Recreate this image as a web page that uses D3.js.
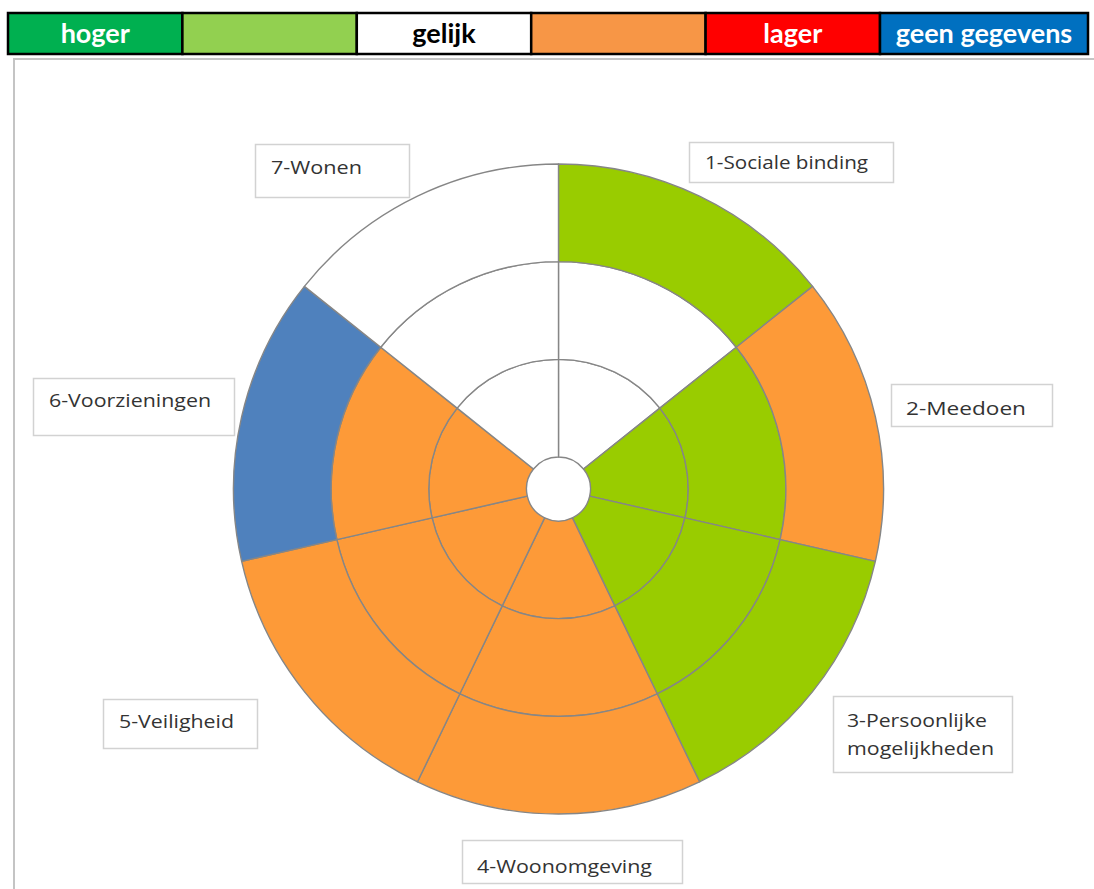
<!DOCTYPE html>
<html><head><meta charset="utf-8">
<script src="https://cdn.jsdelivr.net/npm/d3@7"></script>
<style>html,body{margin:0;padding:0;background:#fff;}svg{display:block;}</style>
</head><body>
<svg id="chart" width="1094" height="889"></svg>
<script>
// ---- data ----
const categories = ["1-Sociale binding","2-Meedoen","3-Persoonlijke mogelijkheden","4-Woonomgeving","5-Veiligheid","6-Voorzieningen","7-Wonen"];
const rings = ["binnen","midden","buiten"];
const innerRing  = ["gelijk","iets hoger","iets hoger","iets lager","iets lager","iets lager","gelijk"];
const middleRing = ["gelijk","iets hoger","iets hoger","iets lager","iets lager","iets lager","gelijk"];
const outerRing  = ["iets hoger","iets lager","iets hoger","iets lager","iets lager","geen gegevens","gelijk"];
const legendStatuses = ["hoger","iets hoger","gelijk","iets lager","lager","geen gegevens"];
const legendLabels = ["hoger","","gelijk","","lager","geen gegevens"];
const labelLines = [["1-Sociale binding"],["2-Meedoen"],["3-Persoonlijke","mogelijkheden"],["4-Woonomgeving"],["5-Veiligheid"],["6-Voorzieningen"],["7-Wonen"]];

// ---- layout (not data) ----
const legendColors = d3.scaleOrdinal().domain(legendStatuses).range(["#00B050","#92D050","#FFFFFF","#F79646","#FF0000","#0070C0"]);
const wheelColors = d3.scaleOrdinal().domain(legendStatuses).range(["#00B050","#99CC00","#FFFFFF","#FD9A38","#FF0000","#4F81BD"]);
const labelBoxes = [
  {x:689,y:142,w:204,h:40,tx:16,base:[27],tw:[163]},
  {x:891,y:384,w:161,h:42,tx:15,base:[31],tw:[120]},
  {x:833,y:696,w:179,h:76,tx:14,base:[31,59],tw:[140,147]},
  {x:462,y:840,w:220,h:43,tx:15,base:[33],tw:[175]},
  {x:103,y:699,w:154,h:49,tx:16,base:[29],tw:[115]},
  {x:33,y:378,w:201,h:57,tx:16,base:[29],tw:[162]},
  {x:255,y:144,w:154,h:53,tx:16,base:[30],tw:[91]}
];

const svg = d3.select("#chart");

// frame
svg.append("path").attr("d","M14,889 L14,59 L1094,59").attr("fill","none").attr("stroke","#c4c4c4").attr("stroke-width",2);

// legend
const lx = d3.scaleLinear().domain([0,5]).range([8,880]);
const legendG = svg.append("g");
legendStatuses.forEach((s,i)=>{
  const x0 = lx(i), x1 = i<5 ? lx(i+1) : 1088;
  legendG.append("rect").attr("x",x0).attr("y",13).attr("width",x1-x0).attr("height",41)
    .attr("fill",legendColors(s)).attr("stroke","#000").attr("stroke-width",2.5);
  if (legendLabels[i]) {
    legendG.append("text").attr("x",(x0+x1)/2).attr("y",43).attr("text-anchor","middle")
      .attr("font-family","Lato, 'Open Sans', sans-serif").attr("font-weight","bold").attr("font-size",27)
      .attr("fill", s==="gelijk" ? "#000" : "#fff").text(legendLabels[i]);
  }
});

// wheel
const cx = 558.5, cy = 489;
const angle = d3.scaleBand().domain(categories).range([0, 2*Math.PI]);
const radius = d3.scaleBand().domain(rings).range([32, 325]);
const ringData = [innerRing, middleRing, outerRing];
const cells = [];
rings.forEach((r,ri)=>categories.forEach((c,ci)=>cells.push({cat:c, ring:r, status:ringData[ri][ci]})));
const arc = d3.arc()
  .innerRadius(d=>radius(d.ring))
  .outerRadius(d=>radius(d.ring)+radius.bandwidth())
  .startAngle(d=>angle(d.cat))
  .endAngle(d=>angle(d.cat)+angle.bandwidth());
const wheel = svg.append("g").attr("transform",`translate(${cx},${cy})`);
wheel.selectAll("path.cell").data(cells).join("path").attr("class","cell")
  .attr("d",arc).attr("fill",d=>wheelColors(d.status))
  .attr("stroke","#868686").attr("stroke-width",1.4).attr("stroke-linejoin","round");

// labels
const lab = svg.append("g");
labelBoxes.forEach((b,i)=>{
  lab.append("rect").attr("x",b.x+0.5).attr("y",b.y+0.5).attr("width",b.w).attr("height",b.h)
    .attr("fill","#fff").attr("stroke","#d2d2d2").attr("stroke-width",1.5);
  labelLines[i].forEach((t,j)=>{
    lab.append("text").attr("x",b.x+b.tx).attr("y",b.y+b.base[j])
      .attr("font-family","'Open Sans', sans-serif").attr("font-size",19)
      .attr("fill","#333").attr("textLength",b.tw[j]).attr("lengthAdjust","spacingAndGlyphs").text(t);
  });
});
</script>
</body></html>
